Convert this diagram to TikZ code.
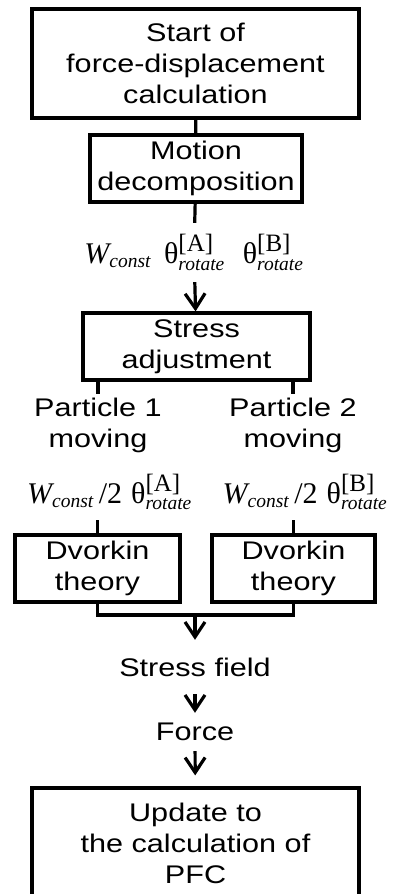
\documentclass[tikz,border=0pt]{standalone}
\usepackage{amsmath}
\usepackage{fontspec}
\setmainfont{Liberation Sans}[FakeStretch=1.2]
\newfontfamily\tnr{Liberation Serif}
\usetikzlibrary{arrows.meta}
\newcommand{\subfont}{\tnr\itshape\fontsize{19.5}{20}\selectfont}
\newcommand{\wconst}{{\tnr\itshape W}$_{\text{\subfont const}}$}
\newcommand{\trot}[1]{{\tnr θ}$^{\text{\tnr\fontsize{25}{25}\selectfont [#1]}}_{\text{\subfont rotate}}$}
\tikzset{
  box/.style={draw, line width=3.2pt, align=center, inner sep=0pt, font=\fontsize{25.5}{31}\selectfont},
  txt/.style={align=center, inner sep=0pt, font=\fontsize{25.5}{31}\selectfont},
  sym/.style={inner sep=0pt, font=\tnr\fontsize{30}{31}\selectfont},
  link/.style={line width=3.2pt},
  arr/.style={line width=3.2pt, -{Straight Barb[length=15pt, width=20pt]}},
}
\begin{document}
\begin{tikzpicture}[x=1pt, y=-1pt]
  \useasboundingbox (0,0) rectangle (395,894);
  % main column
  \node[box, minimum width=327pt, minimum height=109pt] (start) at (195.5,63.5) {Start of\\force-displacement\\calculation};
  \node[box, minimum width=212pt, minimum height=67pt] (motion) at (196,168.5) {Motion\\decomposition};
  \node[sym, minimum height=59pt] (params) at (194,252.5) {\wconst\hspace{13pt}\trot{A}\hspace{18pt}\trot{B}};
  \node[box, minimum width=227pt, minimum height=67pt] (stress) at (196.5,346.5) {Stress\\adjustment};
  % two particles
  \node[txt, inner ysep=3pt] (p1) at (98,425) {Particle 1\\moving};
  \node[txt, inner ysep=3pt] (p2) at (293,425) {Particle 2\\moving};
  \node[sym, minimum height=56pt] (w1) at (109.5,492) {\wconst\,/2\hspace{9pt}\trot{A}};
  \node[sym, minimum height=56pt] (w2) at (305,492) {\wconst\,/2\hspace{9pt}\trot{B}};
  \node[box, minimum width=165pt, minimum height=67pt] (d1) at (97.5,568.5) {Dvorkin\\theory};
  \node[box, minimum width=163pt, minimum height=67pt] (d2) at (293.5,568.5) {Dvorkin\\theory};
  \coordinate (join) at (195,615);
  % results
  \node[txt, minimum height=54pt] (field) at (195,667) {Stress field};
  \node[txt, minimum height=38pt] (force) at (195,732) {Force};
  \node[box, minimum width=327pt, minimum height=110pt] (update) at (195.5,843) {Update to\\the calculation of\\PFC};
  % connectors
  \draw[link] (start) -- (motion);
  \draw[link] (motion) -- (params);
  \draw[arr] (params) -- (stress);
  \draw[link] (stress.south -| p1) -- (p1);
  \draw[link] (stress.south -| p2) -- (p2);
  \draw[link] (d1) -- (d1 |- w1.south);
  \draw[link] (d2) -- (d2 |- w2.south);
  \draw[link] (d1.south) |- (join) -| (d2.south);
  \draw[arr] (join) -- (field);
  \draw[arr] (field) -- (force);
  \draw[arr, shorten >=11pt] (force) -- (update);
\end{tikzpicture}
\end{document}
